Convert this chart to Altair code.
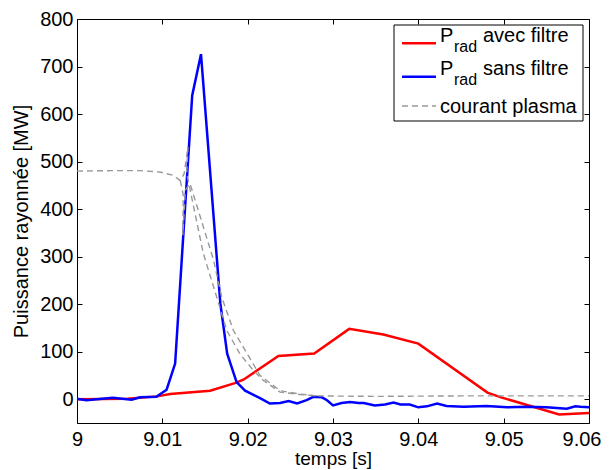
import altair as alt
import pandas as pd

FONT = "Liberation Sans"

# ---------------- data ----------------
red_t = [9.0, 9.0059, 9.0094, 9.0109, 9.0156, 9.0185, 9.0195, 9.0236, 9.0278,
         9.0319, 9.0359, 9.0400, 9.0481, 9.0497, 9.0565, 9.0600]
red_v = [0, 1, 6, 11, 18, 34, 41, 91, 96, 148, 136, 117, 14, 4, -32, -29]

blue_t = [9.0, 9.0011, 9.0042, 9.0064, 9.0074, 9.0093, 9.0105, 9.0115, 9.0135,
          9.01453, 9.0168, 9.0176, 9.0187, 9.0197, 9.0215, 9.0226, 9.0238,
          9.0248, 9.0258, 9.0269, 9.0277, 9.0287, 9.0293, 9.0300, 9.0310,
          9.0320, 9.0330, 9.0336, 9.0349, 9.0361, 9.0371, 9.0379, 9.0390,
          9.0400, 9.0410, 9.0422, 9.0433, 9.0453, 9.0480, 9.0504, 9.0527,
          9.0550, 9.0574, 9.0584, 9.0590, 9.0600]
blue_v = [1, -2, 3, -1, 4, 5, 20, 75, 639,
          726, 201, 96, 36, 18, 2, -9, -8,
          -4, -9, -2, 5, 4, -2, -13, -8,
          -6, -8, -8, -13, -11, -7, -11, -11,
          -17, -15, -9, -14, -16, -14, -17, -16,
          -17, -20, -15, -16, -17]

# plasma current: two overlapping traces
ipa_t = [9.0, 9.004, 9.0074, 9.0097, 9.0113, 9.0121, 9.01255, 9.0130, 9.01286,
         9.0148, 9.01637, 9.01754, 9.0191, 9.02066, 9.0218, 9.0238,
         9.0261, 9.0281, 9.035, 9.045, 9.06]
ipa_v = [480, 481, 481, 478, 471, 460, 474, 531, 475,
         307, 215, 145, 95, 61, 40, 15,
         10, 7, 6, 7, 7]
ipb_t = [9.0121, 9.01245, 9.0124, 9.0127, 9.01324, 9.0160, 9.01696, 9.01832,
         9.02145, 9.0238, 9.0261, 9.0281]
ipb_v = [460, 430, 345, 440, 454, 293, 215, 145, 50, 18, 11, 7]

x_ticks = [9.0, 9.01, 9.02, 9.03, 9.04, 9.05, 9.06]
y_ticks = [0, 100, 200, 300, 400, 500, 600, 700, 800]

legend_labels = ["avec filtre", "sans filtre", "courant plasma"]
legend_colors = ["#ff0000", "#0000ff", "#999999"]

# ---------------- frames ----------------
red_df = pd.DataFrame({"t": red_t, "v": red_v, "i": range(len(red_t))})
blue_df = pd.DataFrame({"t": blue_t, "v": blue_v, "i": range(len(blue_t))})
ip_df = pd.concat([
    pd.DataFrame({"t": ipa_t, "v": ipa_v, "i": range(len(ipa_t)), "trace": "a"}),
    pd.DataFrame({"t": ipb_t, "v": ipb_v, "i": range(len(ipb_t)), "trace": "b"}),
])

xscale = alt.Scale(domain=[9.0, 9.06], nice=False, zero=False)
yscale = alt.Scale(domain=[-50, 800], nice=False, zero=False)

common_axis = dict(domain=False, grid=False, tickSize=5, tickColor="black",
                   tickWidth=1, offset=-5, labelFont=FONT, labelFontSize=20,
                   labelColor="black", titleFont=FONT, titleFontSize=20,
                   titleFontWeight="normal", titleColor="black")

last_tick = "datum.value > 9.0595"
x_bottom = alt.Axis(orient="bottom", values=x_ticks, format=".2~f",
                    labelPadding=6, labelFlush=False, labelOverlap=False,
                    labelAlign={"condition": {"test": last_tick, "value": "right"},
                                "value": "center"},
                    labelOffset={"condition": {"test": last_tick, "value": 12},
                                 "value": 0},
                    title="temps [s]", titlePadding=0,
                    **{**common_axis, "titleFontSize": 19})
y_left = alt.Axis(orient="left", values=y_ticks, labelPadding=4,
                  labelOverlap=False, title="Puissance rayonnée [MW]",
                  titlePadding=8, **common_axis)
x_top = alt.Axis(orient="top", values=x_ticks, labels=False, title=None,
                 **common_axis)
y_right = alt.Axis(orient="right", values=y_ticks, labels=False, title=None,
                   **common_axis)

red = alt.Chart(red_df).mark_line(color="#ff0000", strokeWidth=2.5).encode(
    x=alt.X("t:Q", scale=xscale, axis=x_bottom),
    y=alt.Y("v:Q", scale=yscale, axis=y_left),
    order="i:Q",
)
blue = alt.Chart(blue_df).mark_line(color="#0000ff", strokeWidth=2.5).encode(
    x=alt.X("t:Q", scale=xscale, axis=x_top),
    y=alt.Y("v:Q", scale=yscale, axis=y_right),
    order="i:Q",
)
gray = alt.Chart(ip_df).mark_line(color="#999999", strokeWidth=1.4,
                                  strokeDash=[6, 4]).encode(
    x=alt.X("t:Q", scale=xscale, axis=None),
    y=alt.Y("v:Q", scale=yscale, axis=None),
    detail="trace:N",
    order="i:Q",
)

# ---------------- custom legend (subscripted P_rad) ----------------
one = pd.DataFrame({"k": [0]})
box = alt.Chart(one).mark_rect(fill="white", stroke="black", strokeWidth=1).encode(
    x=alt.value(317), x2=alt.value(506), y=alt.value(6), y2=alt.value(102))

layers = [red, blue, gray, box]
row_line_y = [24.3, 57.7, 87]
row_text_y = [23, 56.3, 94]
for k in range(3):
    col = legend_colors[k]
    if k < 2:
        sym = alt.Chart(one).mark_rule(color=col, strokeWidth=2.5).encode(
            x=alt.value(325), x2=alt.value(359), y=alt.value(row_line_y[k]))
    else:
        sym = alt.Chart(one).mark_rule(color=col, strokeWidth=1.4,
                                       strokeDash=[6, 4]).encode(
            x=alt.value(325), x2=alt.value(359), y=alt.value(row_line_y[k]))
    layers.append(sym)
    if k < 2:
        layers.append(alt.Chart(one).mark_text(
            align="left", baseline="alphabetic", font=FONT, fontSize=20,
            color="black").encode(x=alt.value(363), y=alt.value(row_text_y[k]),
                                  text=alt.value("P")))
        layers.append(alt.Chart(one).mark_text(
            align="left", baseline="alphabetic", font=FONT, fontSize=16,
            color="black").encode(x=alt.value(377), y=alt.value(row_text_y[k] + 9.5),
                                  text=alt.value("rad")))
        layers.append(alt.Chart(one).mark_text(
            align="left", baseline="alphabetic", font=FONT, fontSize=20,
            color="black").encode(x=alt.value(406), y=alt.value(row_text_y[k]),
                                  text=alt.value(legend_labels[k])))
    else:
        layers.append(alt.Chart(one).mark_text(
            align="left", baseline="alphabetic", font=FONT, fontSize=20,
            color="black").encode(x=alt.value(363), y=alt.value(row_text_y[k]),
                                  text=alt.value(legend_labels[k])))

chart = alt.layer(*layers).resolve_axis(
    x="independent", y="independent"
).properties(
    width=512, height=404,
    padding={"left": 69, "top": 11, "right": 13, "bottom": 46},
    autosize=alt.AutoSizeParams(type="none"),
).configure_view(stroke="black", strokeWidth=1)

chart.save("out.html", embed_options={"renderer": "svg", "actions": False})
